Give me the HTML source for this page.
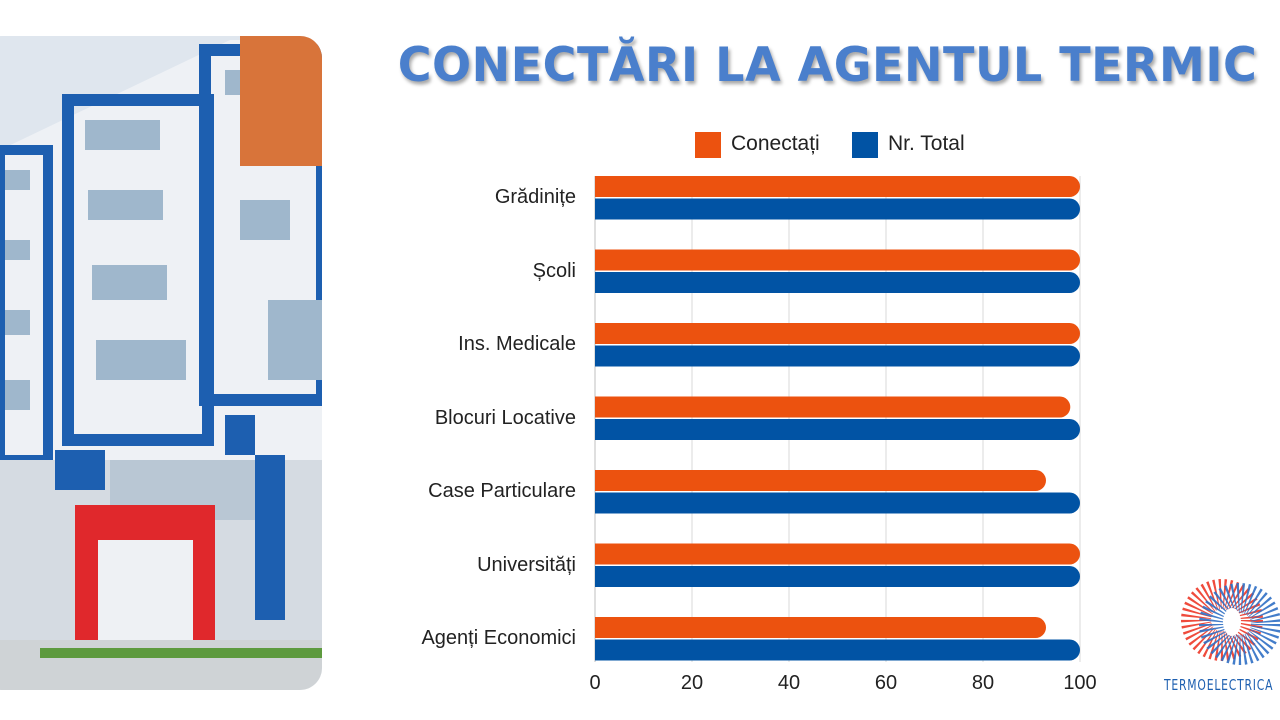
<!DOCTYPE html>
<html><head><meta charset="utf-8"><style>
body{margin:0;width:1280px;height:720px;background:#fff;overflow:hidden;position:relative;font-family:"Liberation Sans",sans-serif}
.t{position:absolute;left:380px;top:38px;width:895px;text-align:center;font-weight:900;font-size:47px;color:#4a7fcc;letter-spacing:0.5px;text-shadow:2px 3px 4px rgba(0,0,0,.35);font-family:"DejaVu Sans","Liberation Sans",sans-serif;transform:scaleX(0.98)}
.lab{position:absolute;right:704px;font-size:20px;color:#222;white-space:nowrap}
.xl{position:absolute;top:672px;font-size:20px;color:#222;width:40px;text-align:center}
</style></head><body>
<svg width="1280" height="720" style="position:absolute;left:0;top:0">
<defs><clipPath id="cp"><rect x="-20" y="36" width="342" height="654" rx="22"/></clipPath></defs>
<g clip-path="url(#cp)">
<rect x="0" y="36" width="322" height="654" fill="#e9eef3"/>
<rect x="0" y="36" width="322" height="120" fill="#dfe6ee"/>
<polygon points="0,150 230,40 322,40 322,470 0,470" fill="#eef1f5"/>
<rect x="0" y="150" width="48" height="310" fill="none" stroke="#1d5fb0" stroke-width="10"/>
<rect x="68" y="100" width="140" height="340" fill="none" stroke="#1d5fb0" stroke-width="12"/>
<rect x="205" y="50" width="117" height="350" fill="none" stroke="#1d5fb0" stroke-width="12"/>
<g fill="#9fb7cc">
<rect x="85" y="120" width="75" height="30"/><rect x="88" y="190" width="75" height="30"/><rect x="92" y="265" width="75" height="35"/><rect x="96" y="340" width="90" height="40"/>
<rect x="225" y="70" width="30" height="25"/><rect x="240" y="200" width="50" height="40"/><rect x="268" y="300" width="54" height="80"/>
<rect x="5" y="170" width="25" height="20"/><rect x="5" y="240" width="25" height="20"/><rect x="5" y="310" width="25" height="25"/><rect x="5" y="380" width="25" height="30"/>
</g>
<rect x="240" y="36" width="82" height="130" fill="#d8743a"/>
<rect x="0" y="460" width="322" height="180" fill="#d5dbe2"/>
<rect x="110" y="460" width="150" height="60" fill="#b9c7d4"/>
<rect x="55" y="450" width="50" height="40" fill="#1d5fb0"/>
<rect x="225" y="415" width="30" height="40" fill="#1d5fb0"/>
<rect x="255" y="455" width="30" height="165" fill="#1d5fb0"/>
<rect x="75" y="505" width="140" height="140" fill="#e0282c"/>
<rect x="98" y="540" width="95" height="105" fill="#eef1f4"/>
<rect x="0" y="640" width="322" height="50" fill="#cfd3d6"/>
<rect x="40" y="648" width="282" height="10" fill="#5d9a3e"/>
</g>
<g stroke="#d9d9d9" stroke-width="1">
<line x1="692" y1="176" x2="692" y2="662"/><line x1="789" y1="176" x2="789" y2="662"/><line x1="886" y1="176" x2="886" y2="662"/><line x1="983" y1="176" x2="983" y2="662"/><line x1="1080" y1="176" x2="1080" y2="662"/>
</g>
<line x1="595" y1="176" x2="595" y2="662" stroke="#bfbfbf"/>
<g fill="#ec520f">
<path d="M595 176h474.5a10.5 10.5 0 0 1 0 21h-474.5z"/>
<path d="M595 249.5h474.5a10.5 10.5 0 0 1 0 21h-474.5z"/>
<path d="M595 323h474.5a10.5 10.5 0 0 1 0 21h-474.5z"/>
<path d="M595 396.5h464.8a10.5 10.5 0 0 1 0 21h-464.8z"/>
<path d="M595 470h440.5a10.5 10.5 0 0 1 0 21h-440.5z"/>
<path d="M595 543.5h474.5a10.5 10.5 0 0 1 0 21h-474.5z"/>
<path d="M595 617h440.5a10.5 10.5 0 0 1 0 21h-440.5z"/>
</g>
<g fill="#0153a4">
<path d="M595 198.5h474.5a10.5 10.5 0 0 1 0 21h-474.5z"/>
<path d="M595 272h474.5a10.5 10.5 0 0 1 0 21h-474.5z"/>
<path d="M595 345.5h474.5a10.5 10.5 0 0 1 0 21h-474.5z"/>
<path d="M595 419h474.5a10.5 10.5 0 0 1 0 21h-474.5z"/>
<path d="M595 492.5h474.5a10.5 10.5 0 0 1 0 21h-474.5z"/>
<path d="M595 566h474.5a10.5 10.5 0 0 1 0 21h-474.5z"/>
<path d="M595 639.5h474.5a10.5 10.5 0 0 1 0 21h-474.5z"/>
</g>
<rect x="695" y="132" width="26" height="26" fill="#ec520f"/>
<rect x="852" y="132" width="26" height="26" fill="#0153a4"/>
<circle cx="1222" cy="620" r="26" fill="none" stroke="#ef4b3c" stroke-width="30" stroke-dasharray="1.6 2.4"/>
<circle cx="1240" cy="624" r="26" fill="none" stroke="#2f6fc4" stroke-width="30" stroke-dasharray="1.6 2.4" opacity=".9"/>
<ellipse cx="1232" cy="622" rx="9" ry="14" fill="#fff"/>
</svg>
<div class="t">CONECTĂRI LA AGENTUL TERMIC</div>
<div style="position:absolute;left:731px;top:132px;font-size:21px;color:#222">Conectați</div>
<div style="position:absolute;left:888px;top:132px;font-size:21px;color:#222">Nr. Total</div>
<div class="lab" style="top:186px">Grădinițe</div>
<div class="lab" style="top:260px">Școli</div>
<div class="lab" style="top:333px">Ins. Medicale</div>
<div class="lab" style="top:407px">Blocuri Locative</div>
<div class="lab" style="top:480px">Case Particulare</div>
<div class="lab" style="top:554px">Universități</div>
<div class="lab" style="top:627px">Agenți Economici</div>
<div class="xl" style="left:575px">0</div><div class="xl" style="left:672px">20</div><div class="xl" style="left:769px">40</div><div class="xl" style="left:866px">60</div><div class="xl" style="left:963px">80</div><div class="xl" style="left:1060px">100</div>
<div style="position:absolute;left:1164px;top:676px;font-size:15px;color:#1d5fb0;letter-spacing:1px;font-family:'DejaVu Sans Condensed','Liberation Sans Narrow',sans-serif;transform:scaleX(0.8);transform-origin:left">TERMOELECTRICA</div>
</body></html>
